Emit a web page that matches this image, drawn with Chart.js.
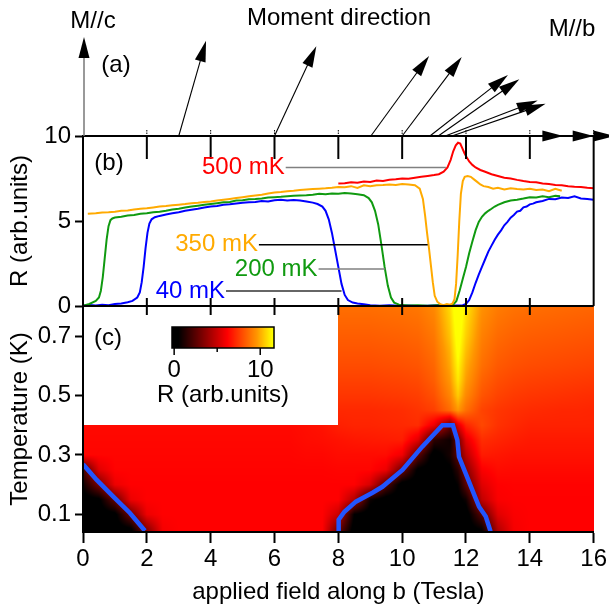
<!DOCTYPE html>
<html>
<head>
<meta charset="utf-8">
<script src="https://cdn.jsdelivr.net/npm/chart.js@4.4.1/dist/chart.umd.min.js"></script>
<style>
  html, body { margin: 0; padding: 0; background: #fff; }
  #wrap { width: 609px; height: 610px; position: relative; }
</style>
</head>
<body>
<div id="wrap"><canvas id="fieldChart"></canvas></div>
<script>
// ---------- data ----------
// panel (b): resistance vs field at four temperatures
const fields40 = [0,0.2,0.4,0.6,0.8,1.0,1.2,1.4,1.55,1.7,1.78,1.84,1.9,1.96,2.02,2.08,2.15,2.25,2.4,2.6,2.8,3.0,3.2,3.4,3.6,3.8,4.0,4.2,4.4,4.6,4.8,5.0,5.2,5.4,5.6,5.8,6.0,6.2,6.4,6.6,6.8,7.0,7.2,7.35,7.5,7.6,7.7,7.8,7.9,8.0,8.1,8.2,8.3,8.45,8.6,8.8,9.0,9.3,9.6,9.9,10.2,10.5,10.8,11.1,11.4,11.7,11.9,12.0,12.1,12.2,12.3,12.4,12.5,12.6,12.7,12.8,12.9,13.0,13.1,13.2,13.3,13.4,13.5,13.6,13.7,13.8,13.9,14.0,14.1,14.2,14.4,14.6,14.8,15.0,15.2,15.4,15.6,15.8,16.0];
const r40 = [0.02,0.06,0.03,0.08,0.05,0.12,0.15,0.22,0.3,0.5,0.8,1.4,2.3,3.4,4.3,4.85,5.1,5.22,5.3,5.38,5.45,5.52,5.6,5.66,5.72,5.8,5.85,5.88,5.95,5.98,6.03,6.08,6.1,6.12,6.18,6.15,6.22,6.25,6.2,6.24,6.2,6.15,6.08,6.0,5.85,5.6,5.1,4.3,3.3,2.3,1.3,0.65,0.35,0.2,0.15,0.1,0.05,0.02,0.04,0.01,0.03,0.0,0.02,0.04,0.01,0.03,0.05,0.12,0.35,0.8,1.35,1.85,2.3,2.75,3.2,3.55,3.9,4.2,4.45,4.75,4.95,5.2,5.35,5.55,5.6,5.8,5.85,5.98,6.02,6.1,6.18,6.3,6.28,6.38,6.35,6.45,6.32,6.3,6.25];

const fields200 = [0,0.2,0.4,0.5,0.56,0.62,0.68,0.74,0.8,0.86,0.92,1.0,1.2,1.4,1.6,1.8,2.0,2.2,2.4,2.6,2.8,3.0,3.2,3.4,3.6,3.8,4.0,4.2,4.4,4.6,4.8,5.0,5.2,5.4,5.6,5.8,6.0,6.2,6.4,6.6,6.8,7.0,7.2,7.4,7.6,7.8,8.0,8.2,8.4,8.6,8.8,8.95,9.05,9.15,9.25,9.35,9.45,9.55,9.65,9.75,9.9,10.2,10.5,10.8,11.1,11.4,11.6,11.7,11.8,11.9,12.0,12.1,12.2,12.3,12.4,12.5,12.6,12.7,12.8,12.9,13.0,13.2,13.4,13.6,13.8,14.0,14.2,14.4,14.6,14.8,14.95];
const r200 = [0.02,0.12,0.3,0.5,0.9,1.7,2.8,3.9,4.7,5.05,5.15,5.2,5.25,5.32,5.35,5.42,5.45,5.52,5.55,5.6,5.68,5.72,5.8,5.85,5.9,5.95,6.0,6.05,6.1,6.12,6.2,6.22,6.28,6.3,6.33,6.38,6.4,6.42,6.45,6.48,6.5,6.52,6.55,6.6,6.58,6.62,6.6,6.65,6.62,6.58,6.52,6.35,6.1,5.6,4.8,3.6,2.3,1.2,0.5,0.2,0.08,0.03,0.05,0.02,0.04,0.02,0.08,0.3,0.9,1.6,2.3,3.1,3.8,4.45,4.95,5.25,5.45,5.6,5.72,5.85,5.95,6.1,6.2,6.25,6.32,6.4,6.38,6.45,6.4,6.48,6.45];

const fields350 = [0.15,0.4,0.6,0.8,1.0,1.2,1.4,1.6,1.8,2.0,2.2,2.4,2.6,2.8,3.0,3.2,3.4,3.6,3.8,4.0,4.2,4.4,4.6,4.8,5.0,5.2,5.4,5.6,5.8,6.0,6.2,6.4,6.6,6.8,7.0,7.2,7.4,7.6,7.8,8.0,8.2,8.4,8.6,8.8,9.0,9.2,9.4,9.6,9.8,10.0,10.2,10.4,10.55,10.65,10.72,10.78,10.84,10.9,10.96,11.02,11.1,11.2,11.3,11.4,11.5,11.58,11.64,11.69,11.74,11.79,11.84,11.9,11.96,12.05,12.15,12.25,12.35,12.45,12.55,12.7,12.85,13.0,13.2,13.4,13.6,13.8,14.0,14.2,14.4,14.6,14.8,15.0];
const r350 = [5.42,5.45,5.5,5.52,5.55,5.6,5.62,5.68,5.72,5.75,5.8,5.85,5.88,5.92,5.96,6.0,6.05,6.08,6.12,6.15,6.2,6.25,6.3,6.35,6.4,6.45,6.5,6.55,6.62,6.68,6.7,6.75,6.78,6.82,6.85,6.88,6.9,6.92,6.95,7.0,6.98,7.05,6.95,7.1,7.05,7.1,7.12,7.15,7.12,7.18,7.15,7.1,6.9,6.3,5.3,4.3,3.4,2.4,1.4,0.6,0.25,0.1,0.05,0.12,0.08,0.15,0.4,1.3,3.0,5.0,6.6,7.35,7.6,7.65,7.6,7.45,7.3,7.15,7.05,7.0,6.9,6.95,6.85,6.92,6.88,6.85,6.9,6.82,6.85,6.75,6.9,6.78];

const fields500 = [8.0,8.2,8.4,8.6,8.8,9.0,9.2,9.4,9.6,9.8,10.0,10.2,10.4,10.6,10.8,11.0,11.15,11.3,11.42,11.52,11.6,11.68,11.75,11.82,11.88,11.95,12.02,12.1,12.2,12.3,12.45,12.6,12.8,13.0,13.2,13.4,13.6,13.8,14.0,14.2,14.4,14.6,14.8,15.0,15.2,15.4,15.6,15.8,16.0];
const r500 = [7.2,7.22,7.28,7.25,7.32,7.3,7.38,7.35,7.42,7.45,7.5,7.48,7.55,7.6,7.65,7.7,7.75,7.9,8.15,8.6,9.1,9.45,9.6,9.55,9.3,9.0,8.75,8.5,8.3,8.15,8.0,7.9,7.75,7.65,7.55,7.5,7.42,7.35,7.3,7.28,7.2,7.18,7.12,7.1,7.05,7.02,7.0,6.95,6.92];

// panel (a): moment direction (degrees above the b axis) at each field
const momentFields = [3.0, 6.0, 9.02, 10.0, 10.87, 11.13, 11.35, 11.56, 11.95, 12.9, 13.55];
const momentAngles = [74, 65, 54, 53, 38, 35, 21, 19, 0, 0, 0];

// panel (c): phase boundaries (blue)
const edgeLowFields = [0, 0.43, 0.95, 1.47, 1.94];
const edgeLowTemps = [0.269, 0.216, 0.16, 0.105, 0.045];
const edgeDomeFields = [8.01, 8.01, 8.19, 8.55, 9.07, 9.38, 10.01, 10.63, 11.26, 11.59, 11.73, 11.78, 11.99, 12.2, 12.41, 12.62, 12.77];
const edgeDomeTemps = [0.043, 0.082, 0.109, 0.143, 0.173, 0.193, 0.25, 0.328, 0.4, 0.4, 0.35, 0.294, 0.238, 0.182, 0.126, 0.093, 0.043];

// panel (c): colour map values R(field, T); null = not measured
const heatFields = [0,0.5,1,1.5,2,2.5,3,3.5,4,4.5,5,5.5,6,6.5,7,7.5,8,8.5,9,9.5,10,10.5,11,11.5,11.75,12,12.5,13,13.5,14,14.5,15,15.5,16];
const heatTemps = [0.05,0.10,0.15,0.20,0.25,0.30,0.35,0.40,0.45,0.50,0.55,0.60,0.65,0.70,0.75,0.80];
const N = null;
const heatR = [
  [0,0,0,0.3,3.5,6.0,6.2,6.2,6.2,6.2,6.2,6.2,6.2,6.2,6.2,6.2, 3.0,0,0,0,0,0,0,0, 0, 0, 0.6,4.5,6.0,6.2,6.2,6.2,6.2,6.2],
  [0,0,0.2,3.0,5.8,6.2,6.2,6.2,6.2,6.2,6.2,6.2,6.2,6.2,6.2,6.2, 5.0,0.5,0,0,0,0,0,0, 0, 0, 2.5,5.5,6.1,6.2,6.2,6.2,6.2,6.2],
  [0,0.3,2.8,5.8,6.2,6.2,6.2,6.2,6.2,6.2,6.2,6.2,6.2,6.2,6.2,6.2, 6.2,4.5,0.8,0,0,0,0,0, 0.2, 0.8, 4.8,6.1,6.2,6.2,6.2,6.2,6.2,6.2],
  [0.8,3.2,5.8,6.2,6.2,6.2,6.2,6.2,6.2,6.2,6.2,6.2,6.2,6.2,6.2,6.2, 6.2,6.2,5.3,2.4,0,0,0,0, 0.6, 2.5, 5.5,6.2,6.25,6.25,6.25,6.25,6.25,6.25],
  [2.0,5.5,6.25,6.25,6.25,6.25,6.25,6.25,6.25,6.25,6.25,6.25,6.25,6.25,6.25,6.25, 6.3,6.3,6.3,5.8,3.0,0.3,0,0.3, 1.4, 3.5, 6.1,6.45,6.4,6.4,6.4,6.4,6.4,6.4],
  [6.3,6.3,6.3,6.3,6.3,6.3,6.3,6.3,6.3,6.3,6.3,6.3,6.3,6.3,6.35,6.35, 6.45,6.45,6.45,6.45,5.9,2.6,0,1.0, 2.6, 4.6, 6.8,6.7,6.6,6.6,6.6,6.6,6.6,6.6],
  [6.35,6.35,6.35,6.35,6.35,6.35,6.35,6.35,6.35,6.35,6.35,6.35,6.35,6.35,6.45,6.5, 6.6,6.7,6.75,6.8,6.85,5.5,1.5,0.8, 3.0, 5.6, 7.2,7.0,6.85,6.75,6.75,6.75,6.75,6.75],
  [6.4,6.4,6.4,6.4,6.4,6.4,6.4,6.4,6.4,6.4,6.4,6.4,6.4,6.4,6.5,6.6, 6.9,7.0,7.0,7.05,7.1,7.2,5.8,2.8, 5.5, 7.0, 7.8,7.3,7.1,6.95,6.95,6.95,6.95,6.95],
  [N,N,N,N,N,N,N,N,N,N,N,N,N,N,N,N, 7.1,7.1,7.1,7.15,7.2,7.35,7.6,8.6, 9.6, 8.7, 7.7,7.4,7.25,7.15,7.1,7.05,7.05,7.0],
  [N,N,N,N,N,N,N,N,N,N,N,N,N,N,N,N, 7.4,7.4,7.4,7.45,7.5,7.6,8.0,9.2, 10.5, 9.3, 8.1,7.7,7.5,7.4,7.35,7.3,7.25,7.2],
  [N,N,N,N,N,N,N,N,N,N,N,N,N,N,N,N, 7.65,7.65,7.65,7.7,7.75,7.85,8.3,9.6, 11.0, 9.7, 8.4,7.95,7.75,7.65,7.6,7.55,7.5,7.45],
  [N,N,N,N,N,N,N,N,N,N,N,N,N,N,N,N, 7.9,7.9,7.9,7.95,8.0,8.1,8.5,9.9, 11.3, 10.0, 8.7,8.2,8.0,7.9,7.85,7.8,7.75,7.7],
  [N,N,N,N,N,N,N,N,N,N,N,N,N,N,N,N, 8.1,8.1,8.1,8.15,8.2,8.3,8.7,10.1, 11.6, 10.3, 8.9,8.4,8.2,8.1,8.05,8.0,7.95,7.9],
  [N,N,N,N,N,N,N,N,N,N,N,N,N,N,N,N, 8.3,8.3,8.3,8.35,8.4,8.5,8.9,10.4, 11.8, 10.6, 9.1,8.6,8.4,8.3,8.25,8.2,8.15,8.1],
  [N,N,N,N,N,N,N,N,N,N,N,N,N,N,N,N, 8.5,8.5,8.5,8.55,8.6,8.7,9.1,10.6, 12.0, 10.8, 9.3,8.8,8.6,8.5,8.45,8.4,8.35,8.3],
  [N,N,N,N,N,N,N,N,N,N,N,N,N,N,N,N, 8.7,8.7,8.7,8.75,8.8,8.9,9.3,10.8, 12.2, 11.0, 9.5,9.0,8.8,8.7,8.65,8.6,8.55,8.5]
];
const noDataFieldMax = 8;
const noDataTempMin = 0.4;

const tempTicks = [0.1, 0.3, 0.5, 0.7];
const colorbarRange = [-0.25, 11.6];
const colorbarTicks = [0, 5, 10];
const colorbarLabels = [0, 10];

// ---------- styling ----------
const FONT = '"Liberation Sans", Arial, Helvetica, sans-serif';
Chart.defaults.font.family = FONT;
Chart.defaults.font.size = 24;
Chart.defaults.color = '#000';

const colors = { c40: '#0000ff', c200: '#109a10', c350: '#ffaa00', c500: '#ff0000', edge: '#2255ff' };

const curveLabels = [
  { text: '500 mK', color: colors.c500, level: 8.15, textEnd: 6.32, lineEnd: 11.37, lineColor: '#808080' },
  { text: '350 mK', color: colors.c350, level: 3.6, textEnd: 5.48, lineEnd: 10.8, lineColor: '#000' },
  { text: '200 mK', color: colors.c200, level: 2.18, textEnd: 7.35, lineEnd: 9.47, lineColor: '#808080' },
  { text: '40 mK', color: colors.c40, level: 0.88, textEnd: 4.45, lineEnd: 8.1, lineColor: '#333' }
];

function hotColor(v) {
  const stops = [[0.5, 0, 0, 0], [6.2, 255, 0, 0], [8.0, 255, 80, 0], [9.6, 255, 150, 0], [11.4, 255, 255, 0]];
  if (v <= stops[0][0]) return [0, 0, 0];
  for (let i = 1; i < stops.length; i++) {
    if (v <= stops[i][0]) {
      const a = stops[i - 1], b = stops[i], t = (v - a[0]) / (b[0] - a[0]);
      return [a[1] + t * (b[1] - a[1]), a[2] + t * (b[2] - a[2]), a[3] + t * (b[3] - a[3])];
    }
  }
  return [255, 255, 0];
}

const pts = (xs, ys) => xs.map((v, i) => ({ x: v, y: ys[i] }));

// position of v between grid nodes of arr: [lower index, upper index, fraction]
function bracket(arr, v) {
  const n = arr.length;
  if (v <= arr[0]) return [0, 0, 0];
  if (v >= arr[n - 1]) return [n - 1, n - 1, 0];
  let i = 0;
  while (arr[i + 1] < v) i++;
  return [i, i + 1, (v - arr[i]) / (arr[i + 1] - arr[i])];
}

// colour map of panel (c), shaded smoothly between grid nodes
const heatmapPlugin = {
  id: 'heatmap',
  beforeDatasetsDraw(chart) {
    const { ctx, scales } = chart;
    const x = scales.x, y = scales.yC;
    const grid = heatR.map(row => {
      const fill = row.find(v => v !== null);
      return row.map(v => (v === null ? fill : v));
    });
    const L = Math.round(x.left), T = Math.round(y.top);
    const W = Math.round(x.right) - L, H = Math.round(y.bottom) - T;
    const img = ctx.createImageData(W, H);
    const cols = [];
    for (let i = 0; i < W; i++) {
      const f = x.getValueForPixel(L + i + 0.5);
      cols.push([f, bracket(heatFields, f)]);
    }
    for (let j = 0; j < H; j++) {
      const t = y.getValueForPixel(T + j + 0.5);
      const [r0, r1, ft] = bracket(heatTemps, t);
      for (let i = 0; i < W; i++) {
        const [f, [c0, c1, fc]] = cols[i];
        const k = (j * W + i) * 4;
        let rgb;
        if (f < noDataFieldMax && t > noDataTempMin) {
          rgb = [255, 255, 255];
        } else {
          const a = grid[r0][c0] + (grid[r0][c1] - grid[r0][c0]) * fc;
          const b = grid[r1][c0] + (grid[r1][c1] - grid[r1][c0]) * fc;
          rgb = hotColor(a + (b - a) * ft);
        }
        img.data[k] = rgb[0];
        img.data[k + 1] = rgb[1];
        img.data[k + 2] = rgb[2];
        img.data[k + 3] = 255;
      }
    }
    ctx.putImageData(img, L, T);
  }
};

// frame lines, moment arrows, labels, colour bar
const framePlugin = {
  id: 'frame',
  afterDraw(chart) {
    const { ctx, scales } = chart;
    const { x, yA, yB } = scales;
    const px = v => x.getPixelForValue(v);
    const top = yB.getPixelForValue(10), mid = yB.getPixelForValue(0);
    const left = px(0), right = px(16);
    const seg = (x1, y1, x2, y2) => { ctx.beginPath(); ctx.moveTo(x1, y1); ctx.lineTo(x2, y2); ctx.stroke(); };
    const head = (tx, ty, ang, len, half) => {
      const c = Math.cos(ang), s = Math.sin(ang);
      const bx = tx - len * c, by = ty - len * s;
      ctx.beginPath();
      ctx.moveTo(tx, ty);
      ctx.lineTo(bx - half * s, by + half * c);
      ctx.lineTo(bx + half * s, by - half * c);
      ctx.closePath();
      ctx.fill();
    };
    ctx.save();
    ctx.strokeStyle = '#000';
    ctx.lineWidth = 2;
    seg(left, top, right, top);
    seg(left, mid, right, mid);
    seg(right, top, right, mid);
    const majors = x.ticks.map(t => t.value);
    majors.filter(v => v > 0 && v < 16).forEach(v => {
      seg(px(v), top, px(v), top + 23);
      seg(px(v), mid - 8, px(v), mid + 9);
    });
    ctx.lineWidth = 1;
    ctx.setLineDash([1.5, 1]);
    majors.filter(v => v > 0).forEach(v => seg(px(v), top - 6, px(v), top));
    ctx.setLineDash([]);

    // M//c axis
    const base = yA.getPixelForValue(0);
    ctx.strokeStyle = '#777';
    ctx.lineWidth = 1.5;
    seg(left + 1, base, left + 1, yA.top + 20);
    ctx.fillStyle = '#000';
    head(left + 1, yA.top + 1, -Math.PI / 2, 21, 5.5);

    // moment arrows
    const arrowLen = 99;
    ctx.strokeStyle = '#000';
    ctx.lineWidth = 1.1;
    momentFields.forEach((f, i) => {
      const a = momentAngles[i] * Math.PI / 180;
      const bx = px(f);
      const tx = bx + arrowLen * Math.cos(a), ty = base - arrowLen * Math.sin(a);
      seg(bx, base, tx - 18 * Math.cos(a), ty + 18 * Math.sin(a));
      head(tx, ty, -a, 21, 5.5);
    });

    // texts
    ctx.font = '24px ' + FONT;
    ctx.textBaseline = 'middle';
    ctx.textAlign = 'center';
    ctx.fillStyle = '#000';
    ctx.fillText('M//c', 93, 21);
    ctx.fillText('Moment direction', 339, 18);
    ctx.fillText('M//b', 572, 29);
    ctx.fillText('(a)', 116, 65);
    ctx.fillText('(b)', 109, 163);
    ctx.fillText('(c)', 108, 338);

    // curve labels with leader lines
    curveLabels.forEach(lb => {
      const yy = yB.getPixelForValue(lb.level);
      ctx.textAlign = 'right';
      ctx.fillStyle = lb.color;
      ctx.fillText(lb.text, px(lb.textEnd), yy);
      ctx.strokeStyle = lb.lineColor;
      ctx.lineWidth = 1.4;
      seg(px(lb.textEnd) + 1, yy, px(lb.lineEnd), yy);
    });

    // colour bar
    const cb = { left: 172, top: 327, width: 102, height: 21 };
    const cbx = v => cb.left + (v - colorbarRange[0]) / (colorbarRange[1] - colorbarRange[0]) * cb.width;
    for (let i = 0; i < cb.width; i++) {
      const v = colorbarRange[0] + (i + 0.5) / cb.width * (colorbarRange[1] - colorbarRange[0]);
      const c = hotColor(v);
      ctx.fillStyle = `rgb(${c[0] | 0},${c[1] | 0},${c[2] | 0})`;
      ctx.fillRect(cb.left + i, cb.top, 1.2, cb.height);
    }
    ctx.strokeStyle = '#000';
    ctx.lineWidth = 1.5;
    ctx.strokeRect(cb.left, cb.top, cb.width, cb.height);
    colorbarTicks.forEach(v => {
      const major = colorbarLabels.includes(v);
      seg(cbx(v), cb.top + cb.height, cbx(v), cb.top + cb.height + (major ? 7 : 4));
    });
    ctx.fillStyle = '#000';
    ctx.textAlign = 'center';
    colorbarLabels.forEach(v => ctx.fillText(String(v), cbx(v), 370));
    ctx.fillText('R (arb.units)', 223, 395);
    ctx.restore();
  }
};

const yAxisCommon = {
  type: 'linear',
  position: 'left',
  stack: 'panels',
  grid: { drawOnChartArea: false, tickLength: 8, tickWidth: 2, color: '#000' },
  border: { color: '#000', width: 2, z: 1 },
  afterFit(s) { s.width = 83; }
};

const ctx = document.getElementById('fieldChart').getContext('2d');

new Chart(ctx, {
  type: 'line',
  data: {
    datasets: [
      { data: pts(edgeLowFields, edgeLowTemps), yAxisID: 'yC', borderColor: colors.edge, borderWidth: 4.5 },
      { data: pts(edgeDomeFields, edgeDomeTemps), yAxisID: 'yC', borderColor: colors.edge, borderWidth: 4.5 },
      { data: pts(fields500, r500), yAxisID: 'yB', borderColor: colors.c500, borderWidth: 2 },
      { data: pts(fields350, r350), yAxisID: 'yB', borderColor: colors.c350, borderWidth: 2 },
      { data: pts(fields200, r200), yAxisID: 'yB', borderColor: colors.c200, borderWidth: 2 },
      { data: pts(fields40, r40), yAxisID: 'yB', borderColor: colors.c40, borderWidth: 2 }
    ]
  },
  options: {
    responsive: true,
    maintainAspectRatio: false,
    animation: false,
    devicePixelRatio: 1,
    layout: { padding: { top: 36, right: 14, bottom: 0, left: 0 } },
    elements: { point: { radius: 0 }, line: { tension: 0, fill: false } },
    plugins: { legend: { display: false }, tooltip: { enabled: false } },
    scales: {
      x: {
        type: 'linear',
        position: 'bottom',
        min: 0,
        max: 16,
        ticks: { stepSize: 2, padding: 2, maxRotation: 0, autoSkip: false },
        grid: { drawOnChartArea: false, tickLength: 11, tickWidth: 2, color: '#000' },
        border: { color: '#000', width: 2, z: 1 },
        title: { display: true, text: 'applied field along b (Tesla)', padding: { top: 0, bottom: 3 } },
        afterFit(s) { s.height = 78; }
      },
      yC: {
        ...yAxisCommon,
        stackWeight: 226,
        weight: 1,
        min: 0.041,
        max: 0.801,
        afterBuildTicks(s) { s.ticks = tempTicks.map(v => ({ value: v })); },
        ticks: { padding: 4, callback: v => Number(v).toFixed(1) },
        title: { display: true, text: 'Temperature (K)', padding: { top: 6, bottom: 0 } }
      },
      yB: {
        ...yAxisCommon,
        stackWeight: 170,
        weight: 2,
        min: 0,
        max: 10,
        ticks: { stepSize: 5, padding: 4 },
        title: { display: true, text: 'R (arb.units)', padding: { top: 6, bottom: 0 } }
      },
      yA: {
        ...yAxisCommon,
        stackWeight: 100,
        weight: 3,
        min: 0,
        max: 100,
        ticks: { display: false },
        grid: { display: false },
        border: { display: false }
      }
    }
  },
  plugins: [heatmapPlugin, framePlugin]
});
</script>
</body>
</html>
